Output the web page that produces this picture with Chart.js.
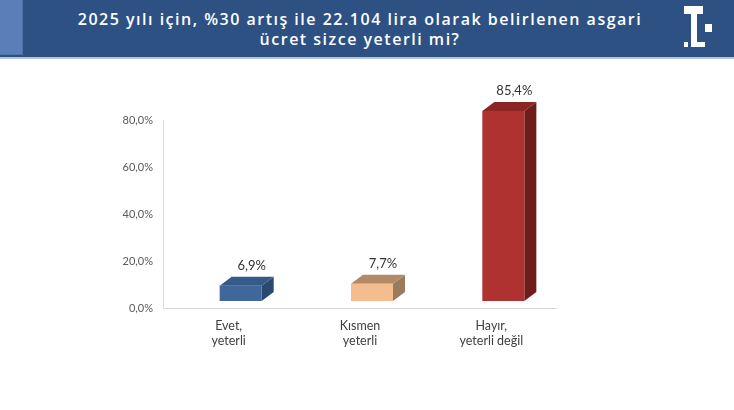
<!DOCTYPE html>
<html>
<head>
<meta charset="utf-8">
<script src="https://cdn.jsdelivr.net/npm/chart.js@4.4.1/dist/chart.umd.min.js"></script>
<style>
  html, body { margin: 0; padding: 0; background: #fff; }
  #wrap { position: relative; width: 734px; height: 410px; overflow: hidden; }
  #head { position: absolute; left: 0; top: 0; width: 734px; height: 57px; background: #2d5183; border-bottom: 2px solid #b3c3d8; }
  #stripe { position: absolute; left: 0; top: 0; width: 22px; height: 54px; background: #5a7fb8; border-right: 1px solid #4d70a6; border-bottom: 1px solid #4d70a6; }
  #title { position: absolute; left: 20px; width: 680px; top: 9px; text-align: center; color: #fff;
           font-family: "Open Sans", Lato, sans-serif; font-weight: 600; font-size: 16px; line-height: 20px; letter-spacing: 1.5px; }
  .lg { position: absolute; background: #fff; }
  #myChart { position: absolute; left: 0; top: 0; }
</style>
</head>
<body>
<div id="wrap">
  <canvas id="myChart" width="734" height="410"></canvas>
  <div id="head">
    <div id="stripe"></div>
    <div id="title">2025 yılı için, %30 artış ile 22.104 lira olarak belirlenen asgari<br>ücret sizce yeterli mi?</div>
    <div class="lg" style="left:684px;top:6px;width:19px;height:8px"></div>
    <div class="lg" style="left:691px;top:14px;width:6px;height:33px"></div>
    <div class="lg" style="left:691px;top:42px;width:14px;height:5px"></div>
    <div class="lg" style="left:684px;top:42px;width:4px;height:5px"></div>
    <div class="lg" style="left:705px;top:24px;width:7px;height:8px"></div>
  </div>
</div>
<script>
const labels = [
    ["Evet,", "yeterli"],
    ["Kısmen", "yeterli"],
    ["Hayır,", "yeterli değil"],
];
const values = [6.9, 7.7, 85.4];
const tickValues = [0, 20, 40, 60, 80];

const frontColors = ['#41669a', '#f3bd8f', '#b03230'];
const topColors   = ['#365a8a', '#b38a68', '#8b2624'];
const sideColors  = ['#2a4870', '#9c7a5d', '#6d1d1a'];

function pct(v) { return v.toFixed(1).replace('.', ',') + '%'; }

// 3D boxes drawn from the bar elements
const boxes = {
    id: 'boxes',
    beforeDatasetsDraw(chart) {
        const ctx = chart.ctx;
        const meta = chart.getDatasetMeta(0);
        const shift = 12, dx = 12, dy = 9;
        meta.data.forEach((bar, i) => {
            const w = bar.width;
            const x0 = bar.x + shift - w / 2, x1 = x0 + w;
            const yt = bar.y, yb = bar.base;
            ctx.save();
            // side
            ctx.fillStyle = sideColors[i];
            ctx.beginPath();
            ctx.moveTo(x1, yt); ctx.lineTo(x1 + dx, yt - dy);
            ctx.lineTo(x1 + dx, yb - dy); ctx.lineTo(x1, yb);
            ctx.closePath(); ctx.fill();
            // top
            ctx.fillStyle = topColors[i];
            ctx.beginPath();
            ctx.moveTo(x0, yt); ctx.lineTo(x1, yt);
            ctx.lineTo(x1 + dx, yt - dy); ctx.lineTo(x0 + dx, yt - dy);
            ctx.closePath(); ctx.fill();
            // front
            ctx.fillStyle = frontColors[i];
            ctx.fillRect(x0, yt, w, yb - yt);
            // value label
            ctx.fillStyle = '#333333';
            ctx.font = '13px Lato, "Noto Sans", sans-serif';
            ctx.textAlign = 'center';
            ctx.textBaseline = 'middle';
            ctx.fillText(pct(values[i]), x0 + w / 2 + 11, yt - dy - 11);
            ctx.restore();
        });
        return false;
    },
    afterDraw(chart) {
        // value axis line, only over the tick range
        const y = chart.scales.y;
        const ctx = chart.ctx;
        ctx.save();
        ctx.strokeStyle = '#d9d9d9';
        ctx.lineWidth = 1;
        ctx.beginPath();
        ctx.moveTo(chart.chartArea.left + 0.5, y.getPixelForValue(0));
        ctx.lineTo(chart.chartArea.left + 0.5, y.getPixelForValue(tickValues[tickValues.length - 1]));
        ctx.stroke();
        ctx.restore();
    }
};

new Chart(document.getElementById('myChart'), {
    type: 'bar',
    data: {
        labels: labels,
        datasets: [{
            data: values,
            yAxisID: 'yb',
            backgroundColor: frontColors,
            barPercentage: 0.32,
            categoryPercentage: 1,
        }]
    },
    options: {
        responsive: false,
        animation: false,
        layout: { padding: { top: 96, left: 93, right: 177, bottom: 42 } },
        plugins: { legend: { display: false }, tooltip: { enabled: false } },
        scales: {
            x: {
                afterFit(s) { s.height = 60; },
                grid: { display: false },
                border: { display: false },
                ticks: {
                    color: '#404040',
                    font: { family: 'Lato, "Noto Sans", sans-serif', size: 12.5 },
                    padding: 2,
                    maxRotation: 0,
                }
            },
            y: {
                position: 'left',
                min: 0,
                max: 90.2,
                afterFit(s) { s.width = 70; },
                afterBuildTicks(s) { s.ticks = tickValues.map(v => ({ value: v })); },
                border: { display: false },
                grid: {
                    drawTicks: false,
                    color: ctx => ctx.tick && ctx.tick.value === 0 ? '#d9d9d9' : 'rgba(0,0,0,0)',
                },
                ticks: {
                    color: '#595959',
                    font: { family: 'Lato, "Noto Sans", sans-serif', size: 11 },
                    padding: 10,
                    callback: v => pct(v),
                }
            },
            yb: {
                display: false,
                min: -3.15,
                max: 92.13,
            }
        }
    },
    plugins: [boxes]
});
</script>
</body>
</html>
